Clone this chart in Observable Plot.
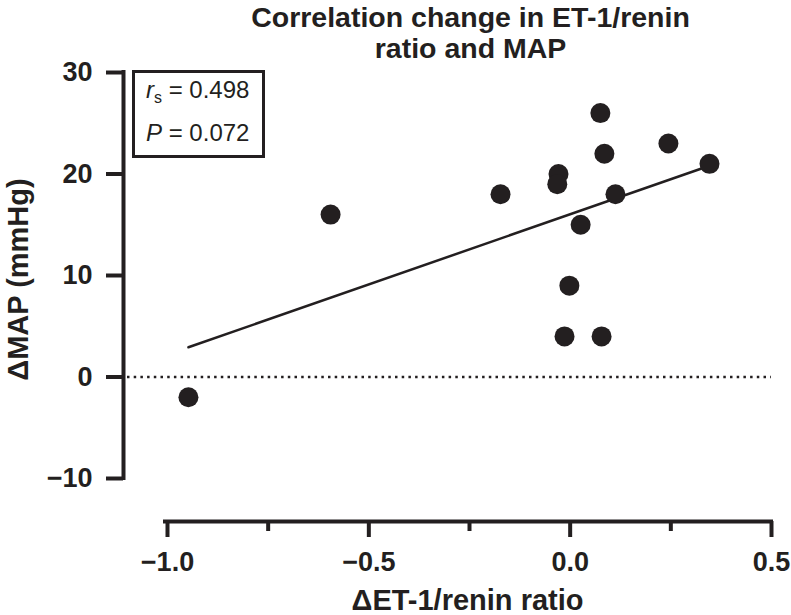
<!DOCTYPE html>
<html><head><meta charset="utf-8">
<script src="https://cdn.jsdelivr.net/npm/d3@7"></script>
<script src="https://cdn.jsdelivr.net/npm/@observablehq/plot@0.6"></script>
<style>
body{margin:0;background:#fff;}
#wrap{position:relative;width:791px;height:615px;font-family:"Liberation Sans",Arial,Helvetica,sans-serif;color:#231f20;}
.stat{position:absolute;font-size:24px;line-height:24px;white-space:nowrap;}
.stat i{font-style:italic;}
.stat sub{font-size:16px;vertical-align:-5px;line-height:0;}
#box{position:absolute;left:132px;top:70px;width:127px;height:82px;border:3px solid #231f20;}
</style></head><body><div id="wrap"></div>
<script>
// Data
const deltaRatio = [-0.948, -0.595, -0.173, -0.029, -0.032, -0.014, -0.002, 0.026, 0.075, 0.085, 0.078, 0.1125, 0.244, 0.346];
const deltaMAP   = [-2, 16, 18, 20, 19, 4, 9, 15, 26, 22, 4, 18, 23, 21];
const xTicks = [-1.0, -0.5, 0.0, 0.5];
const xMinorTicks = [-0.75, -0.25, 0.25];
const yTicks = [-10, 0, 10, 20, 30];
const xDomain = [-1, 0.5];
const yDomain = [-10, 30];
const titleLines = ["Correlation change in ET-1/renin", "ratio and MAP"];
const xLabel = "ΔET-1/renin ratio";
const yLabel = "ΔMAP (mmHg)";
const statR = "0.498";
const statP = "0.072";

const data = deltaRatio.map((x, i) => ({x, y: deltaMAP[i]}));
const ink = "#231f20";
const font = "'Liberation Sans', Arial, Helvetica, sans-serif";
const fmtX = d => (d < 0 ? "\u2212" : "") + Math.abs(d).toFixed(1);
const fmtY = d => (d < 0 ? "\u2212" : "") + Math.abs(d);

const chart = Plot.plot({
  width: 791,
  height: 615,
  marginLeft: 167,
  marginRight: 20,
  marginTop: 72,
  marginBottom: 137,
  style: {fontFamily: font, color: ink, background: "#fff"},
  x: {domain: xDomain},
  y: {domain: yDomain},
  marks: [
    // detached axis lines
    Plot.ruleX([xDomain[0]], {dx: -44, stroke: ink, strokeWidth: 4, strokeLinecap: "square"}),
    Plot.ruleY([yDomain[0]], {dy: 43, stroke: ink, strokeWidth: 4, strokeLinecap: "square", insetLeft: -2}),
    Plot.axisY({ticks: yTicks, tickSize: 17, tickPadding: 14, dx: -44, stroke: ink, strokeWidth: 4,
      fontSize: 27, fontWeight: "bold", fill: ink, tickFormat: fmtY, label: null}),
    Plot.axisX({ticks: xTicks, tickSize: 16, tickPadding: 14, dy: 43, stroke: ink, strokeWidth: 4,
      fontSize: 27, fontWeight: "bold", fill: ink, tickFormat: fmtX, label: null}),
    Plot.axisX({ticks: xMinorTicks, tickSize: 10, dy: 43, stroke: ink, strokeWidth: 4,
      tickFormat: () => "", label: null}),
    // zero reference line
    Plot.ruleY([0], {stroke: ink, strokeWidth: 2.5, strokeDasharray: "2.5,4.2", insetLeft: -40}),
    // regression line
    Plot.linearRegressionY(data, {x: "x", y: "y", ci: 0, stroke: ink, strokeWidth: 2.5}),
    // points
    Plot.dot(data, {x: "x", y: "y", r: 10, fill: ink, stroke: null}),
    // title
    Plot.text([titleLines.join("\n")], {frameAnchor: "top", textAnchor: "middle", lineAnchor: "bottom", dx: 1, dy: -15,
      lineHeight: 1.088, fontSize: 28.5, fontWeight: "bold", fill: ink}),
    // axis labels
    Plot.text([xLabel], {frameAnchor: "bottom", textAnchor: "middle", lineAnchor: "bottom", dx: -2, dy: 131,
      fontSize: 29, fontWeight: "bold", fill: ink}),
    Plot.text([yLabel], {frameAnchor: "left", textAnchor: "middle", lineAnchor: "bottom", rotate: -90, dx: -140, dy: 4,
      fontSize: 29, fontWeight: "bold", fill: ink})
  ]
});

const wrap = document.getElementById("wrap");
wrap.appendChild(chart);
const box = document.createElement("div");
box.id = "box";
wrap.appendChild(box);
const l1 = document.createElement("div");
l1.className = "stat";
l1.style.left = "146px"; l1.style.top = "78px";
l1.innerHTML = "<i>r</i><sub>s</sub> = " + statR;
wrap.appendChild(l1);
const l2 = document.createElement("div");
l2.className = "stat";
l2.style.left = "146px"; l2.style.top = "121px";
l2.innerHTML = "<i>P</i> = " + statP;
wrap.appendChild(l2);
</script>
</body></html>
